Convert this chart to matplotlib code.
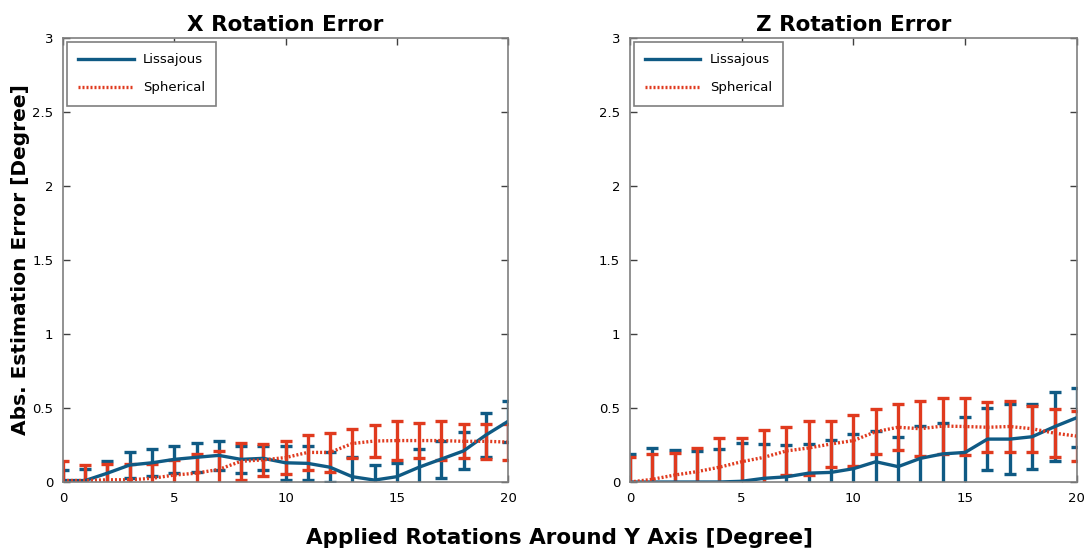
import numpy as np
import matplotlib.pyplot as plt
from matplotlib.lines import Line2D

# applied rotation around Y (degrees)
angles = np.arange(0, 21)

# X rotation error: mean and std per method
x_liss_mean = [0.01, 0.01, 0.06, 0.115, 0.13, 0.153, 0.167, 0.18, 0.153, 0.16, 0.13,
               0.126, 0.10, 0.036, 0.013, 0.036, 0.10, 0.155, 0.21, 0.317, 0.41]
x_liss_std = [0.07, 0.08, 0.08, 0.085, 0.09, 0.09, 0.10, 0.10, 0.093, 0.08, 0.115,
              0.114, 0.10, 0.13, 0.10, 0.094, 0.12, 0.125, 0.125, 0.15, 0.14]
x_sph_mean = [0.01, 0.01, 0.015, 0.015, 0.025, 0.047, 0.06, 0.085, 0.14, 0.15, 0.165,
              0.20, 0.20, 0.26, 0.277, 0.28, 0.28, 0.28, 0.275, 0.275, 0.27]
x_sph_std = [0.13, 0.105, 0.11, 0.105, 0.10, 0.105, 0.13, 0.125, 0.125, 0.11, 0.112,
             0.12, 0.13, 0.10, 0.11, 0.13, 0.12, 0.13, 0.115, 0.12, 0.12]

# Z rotation error
z_liss_mean = [0.0, 0.0, 0.0, 0.0, 0.0, 0.005, 0.025, 0.035, 0.06, 0.065, 0.09,
               0.137, 0.104, 0.16, 0.19, 0.20, 0.29, 0.29, 0.306, 0.374, 0.435]
z_liss_std = [0.19, 0.23, 0.215, 0.21, 0.225, 0.26, 0.235, 0.215, 0.195, 0.22, 0.234,
              0.21, 0.20, 0.22, 0.21, 0.237, 0.21, 0.235, 0.22, 0.232, 0.20]
z_sph_mean = [0.0, 0.018, 0.047, 0.07, 0.10, 0.137, 0.167, 0.21, 0.23, 0.257, 0.28,
              0.34, 0.37, 0.36, 0.378, 0.375, 0.37, 0.375, 0.36, 0.33, 0.31]
z_sph_std = [0.17, 0.17, 0.15, 0.157, 0.20, 0.163, 0.184, 0.16, 0.18, 0.153, 0.175,
             0.15, 0.155, 0.185, 0.19, 0.19, 0.17, 0.173, 0.157, 0.16, 0.17]

blue = "#0f5a84"
red = "#e03a1e"
grey = "#7f7f7f"
dots = (0, (0.6, 0.6))

fig = plt.figure(figsize=(10.86, 5.55), dpi=100)
ax1 = fig.add_axes([0.058, 0.1315, 0.4098, 0.80])
ax2 = fig.add_axes([0.580, 0.1315, 0.4116, 0.80])

panels = [
    (ax1, "X Rotation Error", x_liss_mean, x_liss_std, x_sph_mean, x_sph_std),
    (ax2, "Z Rotation Error", z_liss_mean, z_liss_std, z_sph_mean, z_sph_std),
]

handles = [Line2D([], [], color=blue, lw=2.4),
           Line2D([], [], color=red, lw=2.4, ls=dots)]

for ax, title, lm, ls, sm, ss in panels:
    ax.errorbar(angles, lm, yerr=ls, color=blue, lw=2.4, elinewidth=2.4,
                capsize=4, capthick=2.4)
    ax.errorbar(angles, sm, yerr=ss, color=red, lw=2.4, ls=dots,
                elinewidth=2.4, capsize=4, capthick=2.4)
    ax.set_xlim(0, 20)
    ax.set_ylim(0, 3)
    ax.set_xticks([0, 5, 10, 15, 20])
    ax.set_yticks([0, 0.5, 1, 1.5, 2, 2.5, 3])
    ax.set_yticklabels(["0", "0.5", "1", "1.5", "2", "2.5", "3"])
    ax.tick_params(direction="in", length=5, width=1, color="#404040",
                   labelsize=9.5, pad=7, top=True, right=True)
    for sp in ax.spines.values():
        sp.set_color(grey)
        sp.set_linewidth(1.2)
    ax.set_title(title, fontsize=15.5, fontweight="bold", pad=5)
    leg = ax.legend(handles, ["Lissajous", "Spherical"], loc="upper left",
                    fontsize=9.5, handlelength=4.2, handletextpad=0.7,
                    borderpad=0.85, labelspacing=1.15, fancybox=False,
                    framealpha=1, borderaxespad=0.3)
    leg.get_frame().set_edgecolor(grey)
    leg.get_frame().set_linewidth(1.2)

ax1.set_ylabel("Abs. Estimation Error [Degree]", fontsize=14.5, fontweight="bold")
ax1.yaxis.set_label_coords(-0.073, 0.5)
fig.text(0.515, 0.03, "Applied Rotations Around Y Axis [Degree]",
         ha="center", va="center", fontsize=15.5, fontweight="bold")

fig.savefig("out.png", dpi=100)
